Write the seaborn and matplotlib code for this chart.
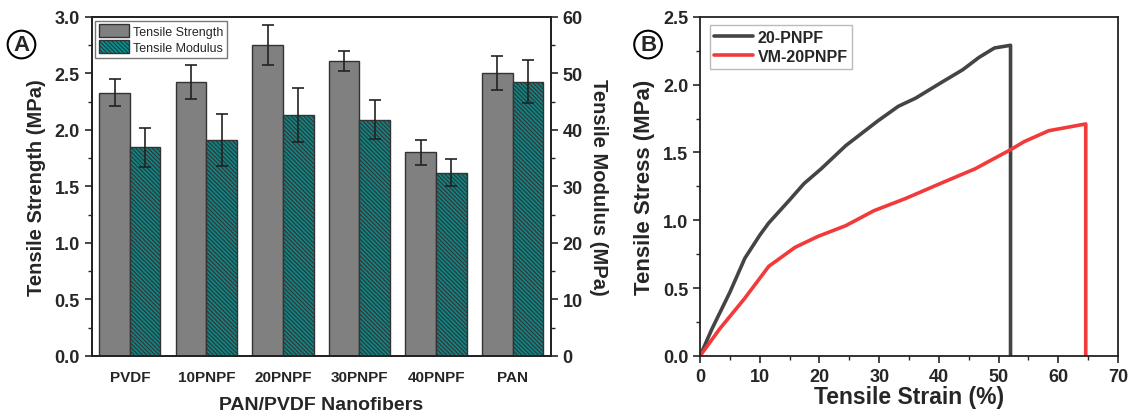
import numpy as np
import pandas as pd
import matplotlib
matplotlib.use("Agg")
import matplotlib.pyplot as plt
from matplotlib.ticker import MultipleLocator
from matplotlib.patches import Patch
from matplotlib.lines import Line2D
import seaborn as sns

# ---------------- data ----------------
samples = ["PVDF", "10PNPF", "20PNPF", "30PNPF", "40PNPF", "PAN"]
strength = [2.33, 2.42, 2.75, 2.61, 1.80, 2.50]
strength_err = [0.12, 0.15, 0.18, 0.09, 0.11, 0.15]
modulus = [36.9, 38.2, 42.6, 41.8, 32.4, 48.5]
modulus_err = [3.4, 4.6, 4.8, 3.4, 2.4, 3.8]

strain_a = [0, 2, 5, 7.5, 10, 11.5, 15, 17.4, 20.3, 24.4, 29.7, 33.2, 36.1, 40.2, 44, 46.7, 49.3, 52, 52]
stress_a = [0, 0.2, 0.47, 0.72, 0.89, 0.98, 1.15, 1.27, 1.38, 1.55, 1.73, 1.84, 1.90, 2.01, 2.11, 2.20, 2.27, 2.29, 0]
strain_b = [0, 3.3, 7.4, 11.5, 15.9, 19.7, 24.4, 29.1, 34.4, 40.2, 46.1, 52, 54.3, 58.4, 64.6, 64.6]
stress_b = [0, 0.2, 0.42, 0.66, 0.80, 0.88, 0.96, 1.07, 1.16, 1.27, 1.38, 1.52, 1.58, 1.66, 1.71, 0]

# ---------------- style ----------------
sns.set_style("ticks")
plt.rcParams["font.family"] = ["Liberation Sans", "DejaVu Sans"]
plt.rcParams["font.weight"] = "bold"
plt.rcParams["hatch.color"] = "#0a1a1a"
plt.rcParams["hatch.linewidth"] = 0.8

fig = plt.figure(figsize=(11.31, 4.14), dpi=100)
axA = fig.add_axes([0.081, 0.138, 0.406, 0.819])
axB = fig.add_axes([0.619, 0.138, 0.3695, 0.819])
axA2 = axA.twinx()

HATCH = "\\\\\\\\\\\\\\\\"
hue_order = ["Tensile Strength", "Tensile Modulus"]
df = pd.DataFrame({
    "sample": samples * 2,
    "series": [hue_order[0]] * 6 + [hue_order[1]] * 6,
    "strength": strength + [np.nan] * 6,
    "modulus": [np.nan] * 6 + modulus,
})
pal = {"Tensile Strength": "#808080", "Tensile Modulus": "#009494"}

sns.barplot(data=df, x="sample", y="strength", hue="series", hue_order=hue_order,
            order=samples, palette=pal, dodge=True, width=0.8, errorbar=None,
            edgecolor="#333333", linewidth=1.0, legend=False, ax=axA)
sns.barplot(data=df, x="sample", y="modulus", hue="series", hue_order=hue_order,
            order=samples, palette=pal, dodge=True, width=0.8, errorbar=None,
            edgecolor="#333333", linewidth=1.0, legend=False, ax=axA2)

for ax, errs in [(axA, strength_err), (axA2, modulus_err)]:
    for p in list(ax.patches):
        h = p.get_height()
        if not np.isfinite(h) or h == 0:
            continue
        xc = p.get_x() + p.get_width() / 2
        i = int(round(xc))
        if ax is axA2:
            p.set_hatch(HATCH)
        ax.errorbar(xc, h, yerr=errs[i], fmt="none", ecolor="#222222",
                    elinewidth=1.2, capsize=4.5, capthick=1.2, zorder=5)

axA.set_xlim(-0.5, 5.5)
axA.set_ylim(0, 3.0)
axA2.set_ylim(0, 60)
axA.yaxis.set_major_locator(MultipleLocator(0.5))
axA.yaxis.set_minor_locator(MultipleLocator(0.25))
axA2.yaxis.set_major_locator(MultipleLocator(10))
axA2.yaxis.set_minor_locator(MultipleLocator(5))
axA.tick_params(axis="x", length=0, labelsize=11, pad=10)
axA.tick_params(axis="y", which="major", length=5, width=1.2, labelsize=13)
axA.tick_params(axis="y", which="minor", length=3, width=1.0)
axA2.tick_params(axis="y", which="major", length=5, width=1.2, labelsize=13)
axA2.tick_params(axis="y", which="minor", length=3, width=1.0)
axA.set_xlabel("PAN/PVDF Nanofibers", fontsize=14, fontweight="bold", labelpad=9)
axA.set_ylabel("Tensile Strength (MPa)", fontsize=14.5, fontweight="bold", labelpad=6)
axA2.set_ylabel("Tensile Modulus (MPa)", fontsize=14.5, fontweight="bold",
                rotation=270, labelpad=18)
for ax in (axA, axA2):
    for s in ax.spines.values():
        s.set_linewidth(1.3)
        s.set_color("#222222")
        s.set_visible(True)

handles = [Patch(facecolor=pal[hue_order[0]], edgecolor="#333333"),
           Patch(facecolor=pal[hue_order[1]], edgecolor="#333333", hatch=HATCH)]
legA = axA2.legend(handles, hue_order, loc="upper left", bbox_to_anchor=(0.0, 1.0),
                   prop={"size": 9, "weight": "normal"}, frameon=True, fancybox=False,
                   edgecolor="#555555", handlelength=2.4, handleheight=1.2,
                   borderpad=0.3, labelspacing=0.2, handletextpad=0.3, borderaxespad=0.3)
legA.get_frame().set_linewidth(1.0)

# ---------------- panel B ----------------
dfB = pd.DataFrame({
    "strain": strain_a + strain_b,
    "stress": stress_a + stress_b,
    "sample": ["20-PNPF"] * len(strain_a) + ["VM-20PNPF"] * len(strain_b),
})
palB = {"20-PNPF": "#444444", "VM-20PNPF": "#f23a3a"}
sns.lineplot(data=dfB, x="strain", y="stress", hue="sample", palette=palB,
             sort=False, estimator=None, linewidth=2.6, legend=False, ax=axB)
axB.set_xlim(0, 70)
axB.set_ylim(0, 2.5)
axB.xaxis.set_major_locator(MultipleLocator(10))
axB.xaxis.set_minor_locator(MultipleLocator(5))
axB.yaxis.set_major_locator(MultipleLocator(0.5))
axB.yaxis.set_minor_locator(MultipleLocator(0.25))
axB.tick_params(axis="both", which="major", length=5, width=1.2, labelsize=13)
axB.tick_params(axis="both", which="minor", length=3, width=1.0)
axB.set_xlabel("Tensile Strain (%)", fontsize=16.5, fontweight="bold", labelpad=0)
axB.set_ylabel("Tensile Stress (MPa)", fontsize=16, fontweight="bold", labelpad=6)
for s in axB.spines.values():
    s.set_linewidth(1.3)
    s.set_color("#222222")
    s.set_visible(True)
hB = [Line2D([], [], color=palB[k], lw=2.6) for k in palB]
legB = axB.legend(hB, list(palB), loc="upper left", bbox_to_anchor=(0.015, 0.985),
                  prop={"size": 11.5, "weight": "bold"}, frameon=True, fancybox=False,
                  edgecolor="#aaaaaa", handlelength=2.4, borderpad=0.3,
                  labelspacing=0.25, handletextpad=0.3, borderaxespad=0.2)
legB.get_frame().set_linewidth(1.0)

# circled panel labels
for xf, lab in [(0.019, "A"), (0.573, "B")]:
    fig.text(xf, 0.89, lab, fontsize=16, fontweight="bold", ha="center", va="center",
             bbox=dict(boxstyle="circle,pad=0.15", fc="white", ec="black", lw=1.5))

fig.savefig("out.png", dpi=100)
